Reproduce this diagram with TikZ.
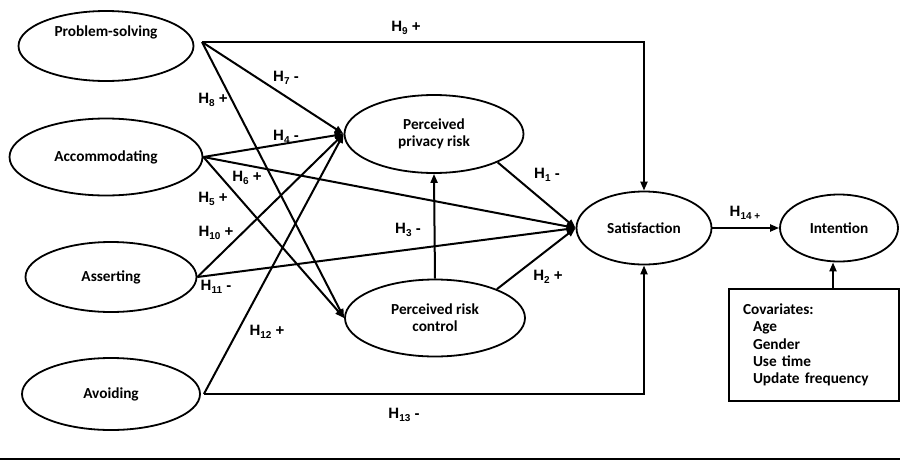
\documentclass[tikz,border=0pt]{standalone}
\usepackage{fontspec}
\setmainfont{Carlito}
\newfontfamily\hfont{Liberation Sans}
\usetikzlibrary{arrows.meta, shapes.geometric}
\newcommand{\hlab}[2]{H\raisebox{-0.35ex}{\fontsize{10}{10}\selectfont #1} #2}

\begin{document}
\begin{tikzpicture}[x=1pt, y=-1pt, >={Triangle[length=9pt, width=7pt]},
  font=\bfseries\fontsize{15.3}{17.3}\selectfont,
  factor/.style={ellipse, draw, line width=1.8pt, inner sep=0pt, align=center},
  hyp/.style={font=\hfont\bfseries\fontsize{15}{17}\selectfont, inner sep=1pt},
  covbox/.style={draw, line width=1.2pt, minimum width=170pt, minimum height=112pt,
                 text width=142pt, inner xsep=14pt, align=left},
  path/.style={->, line width=2pt}]

\useasboundingbox (0,0) rectangle (900,461);

% Constructs
\node[factor, minimum width=175pt, minimum height=70pt, text depth=30pt] (ps) at (106,46) {Problem-solving};
\node[factor, minimum width=193pt, minimum height=77pt] (acc) at (106,157) {Accommodating};
\node[factor, minimum width=171pt, minimum height=70pt] (ass) at (111,277) {Asserting};
\node[factor, minimum width=178pt, minimum height=72pt] (avo) at (111,394) {Avoiding};
\node[factor, minimum width=179pt, minimum height=78pt] (ppr) at (434,134) {Perceived\\privacy risk};
\node[factor, minimum width=180pt, minimum height=77pt] (prc) at (435,318) {Perceived risk\\control};
\node[factor, minimum width=135pt, minimum height=73pt] (sat) at (644,228) {Satisfaction};
\node[factor, minimum width=118pt, minimum height=67pt] (int) at (839,228) {Intention};
\node[covbox] (cov) at (814,345) {Covariates:\\\hspace*{10pt}Age\\\hspace*{10pt}Gender\\\hspace*{10pt}Use time\\\hspace*{10pt}Update frequency};

\coordinate (ps-o) at (202,42);
\coordinate (avo-o) at ([xshift=3pt]avo.east);

% Paths
\draw[path] (ps-o) -| (sat.north);
\draw[path] (ps-o) -- (ppr.west);
\draw[path] (ps-o) -- (prc.west);
\draw[path] (acc.east) -- (ppr.west);
\draw[path] (acc.east) -- (sat.west);
\draw[path] (acc.east) -- (prc.west);
\draw[path] (ass.east) -- (ppr.west);
\draw[path] (ass.east) -- (sat.west);
\draw[path] (avo-o) -- (ppr.west);
\draw[path] (avo-o) -| (sat.south);
\draw[path] (prc.north) -- (ppr.south);
\draw[path] (ppr.-24) -- (sat.west);
\draw[path] (prc.25) -- (sat.west);
\draw[path] (sat.east) -- (int.west);
\draw[path] ([xshift=19pt]cov.north) -- ([xshift=-6pt]int.south);

% Hypotheses
\node[hyp] (h9) at (406,28) {\hlab{9}{+}};
\node[hyp] (h7) at (286,78) {\hlab{7}{-}};
\node[hyp] (h8) at (213,100) {\hlab{8}{+}};
\node[hyp] (h4) at (286,137) {\hlab{4}{-}};
\node[hyp] (h6) at (247,178) {\hlab{6}{+}};
\node[hyp] (h5) at (213,199) {\hlab{5}{+}};
\node[hyp] (h10) at (216,233) {\hlab{10}{+}};
\node[hyp] (h11) at (216,287) {\hlab{11}{-}};
\node[hyp] (h12) at (267,332) {\hlab{12}{+}};
\node[hyp] (h13) at (404,415) {\hlab{13}{-}};
\node[hyp] (h3) at (408,230) {\hlab{3}{-}};
\node[hyp] (h1) at (547,175) {\hlab{1}{-}};
\node[hyp] (h2) at (548,277) {\hlab{2}{+}};
\node[hyp] (h14) at (745,213) {H\raisebox{-0.35ex}{\fontsize{10}{10}\selectfont 14 +}};

\draw[line width=1.5pt] (0,459) -- (900,459);

\end{tikzpicture}
\end{document}
